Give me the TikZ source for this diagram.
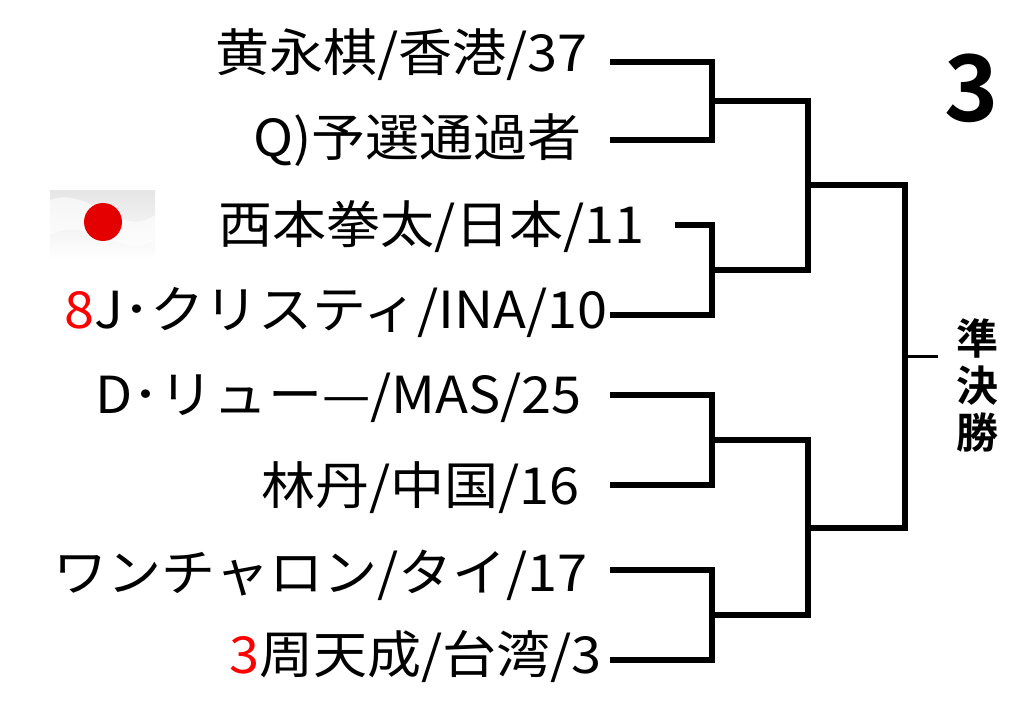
\documentclass[tikz,border=0pt]{standalone}
\usepackage{fontspec}
\setmainfont{Noto Sans CJK JP}[FakeStretch=1.06]
\newfontfamily\cjkb[BoldFont={Noto Sans CJK JP Bold}]{Noto Sans CJK JP}
\begin{document}
\begin{tikzpicture}[x=1pt,y=-1pt,
  nm/.style={anchor=east,inner sep=0pt,font=\fontsize{51}{55}\selectfont},
  br/.style={line width=5.5pt,line join=miter,line cap=rect}]
\useasboundingbox (0,0) rectangle (1024,714);
\node[nm] (p1) at (588,55) {黄永棋/香港/37};
\node[nm] (p2) at (582,140) {Q)予選通過者};
\node[nm] (p3) at (645,227) {西本拳太/日本/11};
\node[nm] (p4) at (608,312) {\textcolor{red}{8}J･クリスティ/INA/10};
\node[nm] (p5) at (582,398) {D･リュー—/MAS/25};
\node[nm] (p6) at (580,488) {林丹/中国/16};
\node[nm] (p7) at (588,575) {ワンチャロン/タイ/17};
\node[nm] (p8) at (602,657) {\textcolor{red}{3}周天成/台湾/3};
% flag
\shade[top color=gray!20,bottom color=white] (50,190) rectangle (155,260);
\fill[white,opacity=0.6] (50,200) .. controls (90,185) and (120,240) .. (155,215) -- (155,240) .. controls (120,260) and (90,215) .. (50,235) -- cycle;
\fill[red!90!black] (103,222) circle (19);
% bracket
\coordinate (a1) at (613,62);\coordinate (a2) at (613,140);
\coordinate (a3) at (678,225);\coordinate (a4) at (613,315);
\coordinate (a5) at (613,395);\coordinate (a6) at (613,485);
\coordinate (a7) at (613,570);\coordinate (a8) at (613,660);
\draw[br] (a1) -| (712,140) -- (a2);
\draw[br] (a3) -| (712,315) -- (a4);
\draw[br] (a5) -| (712,485) -- (a6);
\draw[br] (a7) -| (712,660) -- (a8);
\draw[br] (712,101) -| (808,270) -- (712,270);
\draw[br] (712,440) -| (808,615) -- (712,615);
\draw[br] (808,185) -| (905,528) -- (808,528);
\draw[line width=3pt] (905,356) -- (938,356);
\node[font=\fontsize{92}{96}\selectfont\bfseries\cjkb] (n3) at (972,88) {3};
\node[font=\fontsize{42}{47}\selectfont\bfseries\cjkb,align=center,inner sep=0pt] (sf) at (977,385) {準\\決\\勝};
\end{tikzpicture}
\end{document}
